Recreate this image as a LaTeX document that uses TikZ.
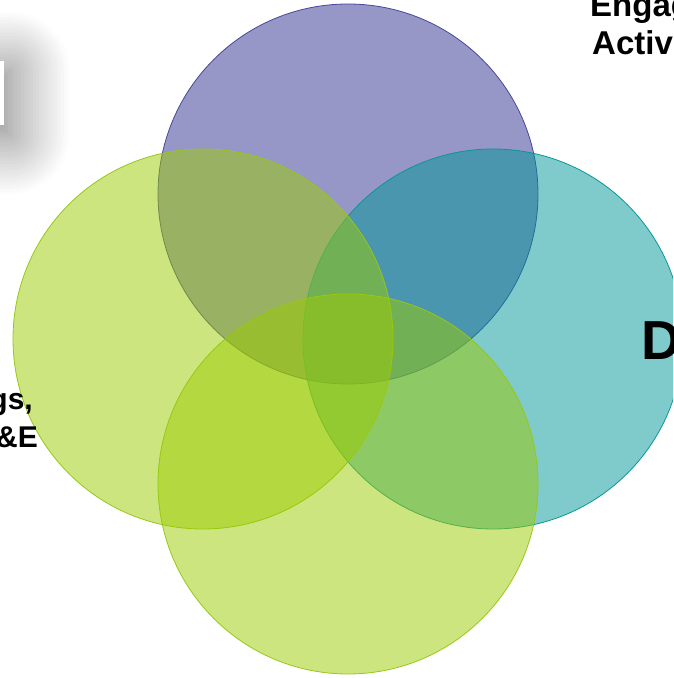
\documentclass[tikz,border=0pt]{standalone}
\usepackage{fontspec}
\setmainfont{Liberation Sans}
\usetikzlibrary{shadows.blur}
\definecolor{ringpurple}{RGB}{47,47,143}
\definecolor{ringgreen}{RGB}{155,203,0}
\definecolor{ringteal}{RGB}{0,151,153}
\definecolor{edgepurple}{RGB}{70,70,155}
\definecolor{edgegreen}{RGB}{150,200,20}
\definecolor{edgeteal}{RGB}{10,150,150}
\begin{document}
\begin{tikzpicture}[x=1pt, y=1pt,
    ring/.style={circle, minimum size=380pt, inner sep=0pt, fill opacity=0.5, line width=0.8pt},
    label_text/.style={font=\fontsize{33}{39}\selectfont\bfseries, inner sep=0pt}
]
\useasboundingbox (0,0) rectangle (673,678);
\clip (0,0) rectangle (673,678);
% shadowed box at the top left
\node[fill=white, minimum width=120pt, minimum height=64pt, inner sep=0pt,
    blur shadow={shadow xshift=6pt, shadow yshift=-10pt, shadow blur radius=60pt, shadow opacity=55, shadow blur steps=20}]
    (box) at (-56,585) {};
% four overlapping rings
\node[ring, fill=ringpurple, draw=edgepurple] (top) at (348,484) {};
\node[ring, fill=ringteal, draw=edgeteal] (right) at (493,339) {};
\node[ring, fill=ringgreen, draw=edgegreen] (left) at (203,339) {};
\node[ring, fill=ringgreen, draw=edgegreen] (bottom) at (348,194) {};
% labels cut by the page edge
\node[label_text, anchor=base west] (engaged) at (590,661) {Engaged};
\node[label_text, anchor=base west] (active) at (592,623) {Active};
\node[font=\fontsize{55}{60}\selectfont\bfseries, inner sep=0pt, anchor=base west] (dlabel) at (641,318) {D};
\node[label_text, font=\fontsize{30}{36}\selectfont\bfseries, anchor=base east] (gs) at (33,268) {gs,};
\node[label_text, font=\fontsize{30}{36}\selectfont\bfseries, anchor=base east] (me) at (38,230) {\&E};
\end{tikzpicture}
\end{document}
